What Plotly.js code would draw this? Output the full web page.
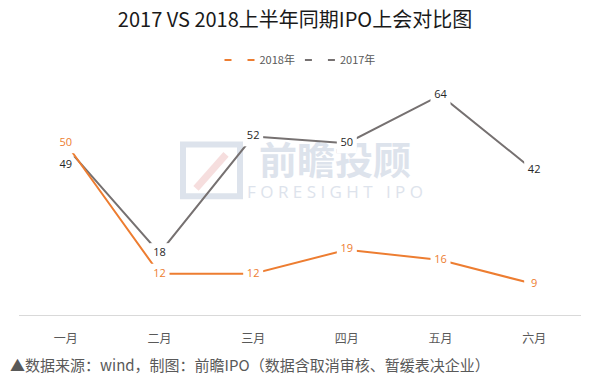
<!DOCTYPE html>
<html>
<head>
<meta charset="utf-8">
<script src="https://cdn.plot.ly/plotly-3.0.1.min.js"></script>
<style>html,body{margin:0;padding:0;background:#fff;}#chart{width:590px;height:380px;}</style>
</head>
<body>
<div id="chart"></div>
<script>
var months = ['一月','二月','三月','四月','五月','六月'];
var values2018 = [50, 12, 12, 19, 16, 9];
var values2017 = [49, 18, 52, 50, 64, 42];
var pos2017 = ['bottom center','middle center','middle center','middle center','middle center','middle center'];

var orange = '#ED7D31';
var gray = '#767171';
var fontCJK = '"Noto Sans CJK SC", "Open Sans", sans-serif';
var fontNum = '"Open Sans", "Noto Sans", sans-serif';

var t2017 = {
  name: '2017年', x: months, y: values2017, type: 'scatter', mode: 'lines+markers+text',
  line: {color: gray, width: 2},
  marker: {symbol: 'square', size: 20, color: '#ffffff', line: {width: 0}},
  text: values2017.map(String), textposition: pos2017,
  textfont: {family: fontNum, size: 11, color: '#262626'},
  hoverinfo: 'skip', cliponaxis: false
};
var t2018 = {
  name: '2018年', x: months, y: values2018, type: 'scatter', mode: 'lines+markers+text',
  line: {color: orange, width: 2},
  marker: {symbol: 'square', size: 20, color: '#ffffff', line: {width: 0}},
  text: values2018.map(String), textposition: 'middle center',
  textfont: {family: fontNum, size: 11, color: orange},
  hoverinfo: 'skip', cliponaxis: false
};

function px(x){ return (x - 19) / 562; }
function py(y){ return (315 - y) / 247; }

var layout = {
  width: 590, height: 380,
  margin: {l: 19, r: 9, t: 68, b: 65},
  paper_bgcolor: '#ffffff', plot_bgcolor: '#ffffff',
  showlegend: true,
  title: {text: '2017 VS 2018上半年同期IPO上会对比图', font: {family: fontCJK, size: 20, color: '#1a1a1a'},
          x: 0.5, xanchor: 'center', y: 1 - 20/380, yanchor: 'middle', yref: 'container'},
  legend: {orientation: 'h', x: 0.5, xanchor: 'center', y: 1 - 60/380, yanchor: 'middle', yref: 'container',
           traceorder: 'reversed', font: {family: fontCJK, size: 11, color: '#595959'}, itemwidth: 30},
  xaxis: {type: 'category', range: [-0.5, 5.5], showgrid: false, zeroline: false,
          showline: true, linecolor: '#d9d9d9', linewidth: 1, ticks: '',
          ticklabelstandoff: 13,
          tickfont: {family: fontCJK, size: 12, color: '#595959'}, fixedrange: true},
  yaxis: {range: [0, 70], showgrid: false, zeroline: false, showline: false, showticklabels: false, ticks: '', fixedrange: true},
  shapes: [
    {type: 'rect', xref: 'paper', yref: 'paper', x0: px(183), x1: px(240), y0: py(193), y1: py(140),
     line: {color: '#dde3ec', width: 6}, layer: 'below'},
    {type: 'line', xref: 'paper', yref: 'paper', x0: px(196), x1: px(226), y0: py(185), y1: py(150),
     line: {color: '#f6dede', width: 7}, layer: 'below'},
    {type: 'rect', xref: 'paper', yref: 'paper', x0: px(250), x1: px(420), y0: py(177), y1: py(142),
     line: {width: 0}, layer: 'below',
     label: {text: '前瞻投顾', font: {family: fontCJK, size: 38, color: '#dde3ec', weight: 'bold'}, textposition: 'middle center'}},
    {type: 'rect', xref: 'paper', yref: 'paper', x0: px(250), x1: px(420), y0: py(198), y1: py(180),
     line: {width: 0}, layer: 'below',
     label: {text: 'F O R E S I G H T   I P O', font: {family: fontNum, size: 17, color: '#dde3ec'}, textposition: 'middle center'}}
  ],
  annotations: [
    {text: '▲数据来源：wind，制图：前瞻IPO（数据含取消审核、暂缓表决企业）', xref: 'paper', yref: 'paper',
     x: px(8), y: py(366), xanchor: 'left', yanchor: 'middle', showarrow: false,
     font: {family: fontCJK, size: 15, color: '#595959'}}
  ]
};

Plotly.newPlot('chart', [t2017, t2018], layout, {displayModeBar: false, staticPlot: true});
</script>
</body>
</html>
